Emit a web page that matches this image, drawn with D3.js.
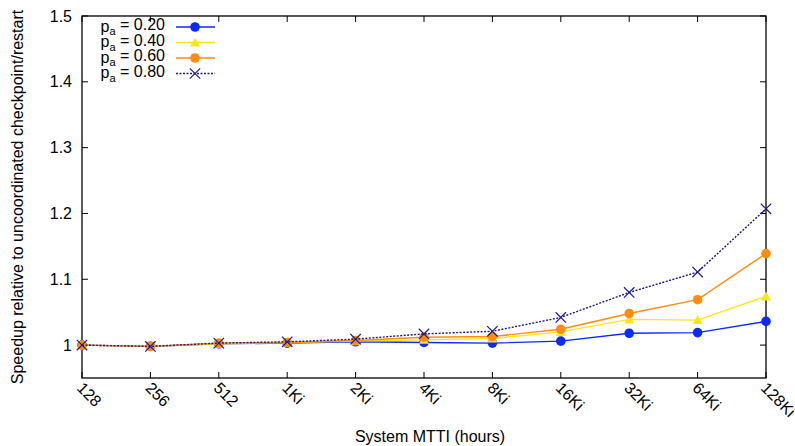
<!DOCTYPE html>
<html>
<head>
<meta charset="utf-8">
<script src="https://cdn.jsdelivr.net/npm/d3@7"></script>
<style>
  html, body { margin: 0; padding: 0; background: #fff; }
  svg text { font-family: "Liberation Sans", Arial, sans-serif; fill: #000; }
</style>
</head>
<body>
<svg id="chart" width="795" height="446"></svg>
<script>
// System MTTI categories (log2 spaced, hours)
const mttiLabels = ["128", "256", "512", "1Ki", "2Ki", "4Ki", "8Ki", "16Ki", "32Ki", "64Ki", "128Ki"];
const yTicks = [1, 1.1, 1.2, 1.3, 1.4, 1.5];

// Speedup relative to uncoordinated checkpoint/restart, per p_a
const speedupPa020 = [1.000, 0.998, 1.002, 1.003, 1.005, 1.004, 1.003, 1.006, 1.018, 1.019, 1.036];
const speedupPa040 = [1.000, 0.998, 1.002, 1.004, 1.006, 1.008, 1.010, 1.020, 1.039, 1.038, 1.074];
const speedupPa060 = [1.000, 0.998, 1.003, 1.004, 1.007, 1.012, 1.013, 1.024, 1.048, 1.069, 1.139];
const speedupPa080 = [1.000, 0.998, 1.003, 1.005, 1.009, 1.017, 1.021, 1.042, 1.080, 1.111, 1.207];

const seriesNames = ["0.20", "0.40", "0.60", "0.80"];

const series = [
  { name: seriesNames[0], values: speedupPa020, color: "#0a2bff", marker: "circle", dash: null },
  { name: seriesNames[1], values: speedupPa040, color: "#ffe41a", marker: "triangle", dash: null },
  { name: seriesNames[2], values: speedupPa060, color: "#ff8c0f", marker: "circle", dash: null },
  { name: seriesNames[3], values: speedupPa080, color: "#1c1c8a", marker: "cross", dash: "2,1.5" }
];

const svg = d3.select("#chart");
const margin = { left: 82, right: 29, top: 16, bottom: 68 };
const W = 795, H = 446;
const x0 = margin.left, x1 = W - margin.right, y0 = H - margin.bottom, y1 = margin.top;
const fs = 16;

const x = d3.scalePoint().domain(mttiLabels).range([x0, x1]);
const y = d3.scaleLinear().domain([0.95, 1.5]).range([y0, y1]);

// Tick marks on all four sides (inward)
const axisG = svg.append("g");
const tickLen = 6;
yTicks.forEach(t => {
  const yy = y(t);
  axisG.append("line").attr("x1", x0).attr("x2", x0 + tickLen).attr("y1", yy).attr("y2", yy);
  axisG.append("line").attr("x1", x1).attr("x2", x1 - tickLen).attr("y1", yy).attr("y2", yy);
  axisG.append("text").attr("x", x0 - 10).attr("y", yy).attr("dy", "0.35em")
    .attr("text-anchor", "end").attr("font-size", fs).text(d3.format("")(t));
});
mttiLabels.forEach(l => {
  const xx = x(l);
  axisG.append("line").attr("x1", xx).attr("x2", xx).attr("y1", y0).attr("y2", y0 - tickLen);
  axisG.append("line").attr("x1", xx).attr("x2", xx).attr("y1", y1).attr("y2", y1 + tickLen);
  axisG.append("text").attr("font-size", fs).attr("text-anchor", "start")
    .attr("transform", `translate(${xx - 6},${y0 + 11}) rotate(45)`)
    .text(l);
});
axisG.selectAll("line").attr("stroke", "#000").attr("stroke-width", 1);

// Plot border
svg.append("rect").attr("x", x0).attr("y", y1).attr("width", x1 - x0).attr("height", y0 - y1)
  .attr("fill", "none").attr("stroke", "#000").attr("stroke-width", 1.3);

// Axis titles
svg.append("text").attr("x", (x0 + x1) / 2 + 6).attr("y", 442).attr("text-anchor", "middle")
  .attr("font-size", fs).text("System MTTI (hours)");
svg.append("text").attr("transform", `translate(23,${(y0 + y1) / 2}) rotate(-90)`)
  .attr("text-anchor", "middle").attr("font-size", fs)
  .text("Speedup relative to uncoordinated checkpoint/restart");

// Markers
function drawMarker(g, type, cx, cy, color) {
  if (type === "circle") {
    g.append("circle").attr("cx", cx).attr("cy", cy).attr("r", 4.8).attr("fill", color);
  } else if (type === "triangle") {
    const s = 5;
    g.append("path").attr("d", `M${cx},${cy - s}L${cx + s},${cy + s * 0.8}L${cx - s},${cy + s * 0.8}Z`).attr("fill", color);
  } else if (type === "cross") {
    const s = 5.2;
    g.append("path").attr("d", `M${cx - s},${cy - s}L${cx + s},${cy + s}M${cx - s},${cy + s}L${cx + s},${cy - s}`)
      .attr("stroke", color).attr("stroke-width", 1.2).attr("fill", "none");
  }
}

const line = d3.line().x((d, i) => x(mttiLabels[i])).y(d => y(d));

series.forEach(s => {
  const g = svg.append("g");
  g.append("path").datum(s.values).attr("d", line)
    .attr("fill", "none").attr("stroke", s.color).attr("stroke-width", 1.4)
    .attr("stroke-dasharray", s.dash);
  s.values.forEach((v, i) => drawMarker(g, s.marker, x(mttiLabels[i]), y(v), s.color));
});

// Legend
const legend = svg.append("g");
series.forEach((s, i) => {
  const ly = 27 + i * 15.5;
  const t = legend.append("text").attr("x", 165).attr("y", ly).attr("dy", "0.3em")
    .attr("text-anchor", "end").attr("font-size", fs);
  t.append("tspan").text("p");
  t.append("tspan").attr("font-size", 11).attr("dy", "0.3em").text("a");
  t.append("tspan").attr("dy", "-0.3em").text(" = " + s.name);
  legend.append("line").attr("x1", 176).attr("x2", 215).attr("y1", ly).attr("y2", ly)
    .attr("stroke", s.color).attr("stroke-width", 1.4).attr("stroke-dasharray", s.dash);
  drawMarker(legend, s.marker, 195, ly, s.color);
});
</script>
</body>
</html>
